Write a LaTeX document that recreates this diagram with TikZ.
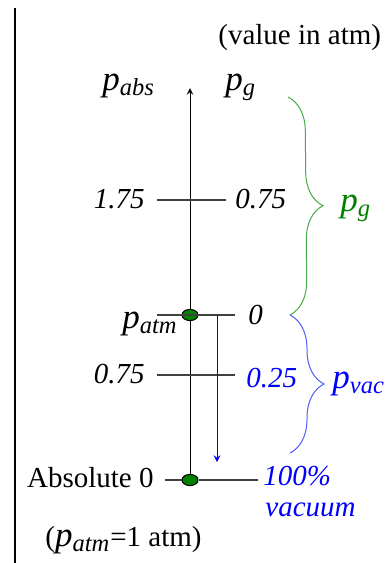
\documentclass[tikz,border=0pt]{standalone}
\usepackage{fontspec}
\setmainfont{Liberation Serif}
\usetikzlibrary{shapes.geometric,decorations.pathreplacing}
\definecolor{gdark}{RGB}{0,128,0}
\definecolor{glight}{RGB}{70,170,70}
\definecolor{blight}{RGB}{80,90,255}
\newcommand{\pval}[1]{{\fontsize{17.5}{20}\selectfont\textit{p}\textsubscript{\textit{#1}}}}

\begin{document}
\begin{tikzpicture}[x=0.5pt, y=-0.5pt, >=stealth,
    font=\fontsize{14.5}{17}\selectfont,
    lbl/.style={inner sep=0pt},
    scaleline/.style={draw=black!75, line width=0.6pt},
    gdot/.style={ellipse, draw=black, fill=gdark, line width=0.5pt,
        minimum width=8pt, minimum height=5.6pt, inner sep=0pt},
    curly/.style={decorate, decoration={brace, amplitude=17pt}, line width=0.5pt}]
    \useasboundingbox (0,0) rectangle (391,563);

    % Frame line
    \draw[line width=0.8pt] (15,8) -- (15,563);

    % Headings
    \node[lbl, anchor=base west] (unit) at (218,44) {(value in atm)};
    \node[lbl, anchor=base west] (pabs) at (102,90) {\pval{abs}};
    \node[lbl, anchor=base west] (pg) at (225,90) {\pval{g}};

    % Axis
    \coordinate (top) at (190,88);
    \node[gdot] (zero) at (190,480) {};
    \draw[->, line width=0.5pt] (zero) -- (top);

    % Scale lines
    \coordinate (l1) at (157,200); \coordinate (r1) at (226,200);
    \coordinate (l2) at (157,315); \coordinate (r2) at (235,315);
    \coordinate (l3) at (157,375); \coordinate (r3) at (235,375);
    \coordinate (l4) at (165,480); \coordinate (r4) at (258,480);
    \node[gdot] (atm) at (190,315) {};
    \draw[scaleline] (l1) -- (r1);
    \draw[scaleline] (l2) -- (r2);
    \draw[scaleline] (l3) -- (r3);
    \draw[scaleline] (l4) -- (zero) (zero) -- (r4);

    % Values
    \node[lbl, anchor=base east] (a175) at (145,208) {\textit{1.75}};
    \node[lbl, anchor=base west] (g075) at (235,208) {\textit{0.75}};
    \node[lbl, anchor=base east] (patm) at (178,328) {\pval{atm}};
    \node[lbl, anchor=base west] (g0) at (248,324) {\textit{0}};
    \node[lbl, anchor=base east] (a075) at (145,383) {\textit{0.75}};
    \node[lbl, anchor=base west, text=blue] (v025) at (246,387) {\textit{0.25}};
    \node[lbl, anchor=base east] (abs0) at (154,487) {Absolute 0};
    \node[lbl, anchor=base west, text=blue] (full) at (263,485) {\textit{100\%}};
    \node[lbl, anchor=base west, text=blue] (vac) at (265,516) {\textit{vacuum}};
    \node[lbl, anchor=base west] (note) at (45,546) {(\pval{atm}=1 atm)};

    % Vacuum arrow
    \coordinate (vtop) at (217,315);
    \coordinate (vbot) at (217,462);
    \draw[->, blue, line width=0.5pt] (vtop) -- (vbot);

    % Braces
    \draw[curly, glight] (288,97) -- (290,315);
    \draw[curly, blight] (290,315) -- (290,453);
    \node[lbl, anchor=base west, text=gdark] (gauge) at (340,211) {\pval{g}};
    \node[lbl, anchor=base west, text=blue] (vacuum) at (332,388) {\pval{vac}};
\end{tikzpicture}
\end{document}
